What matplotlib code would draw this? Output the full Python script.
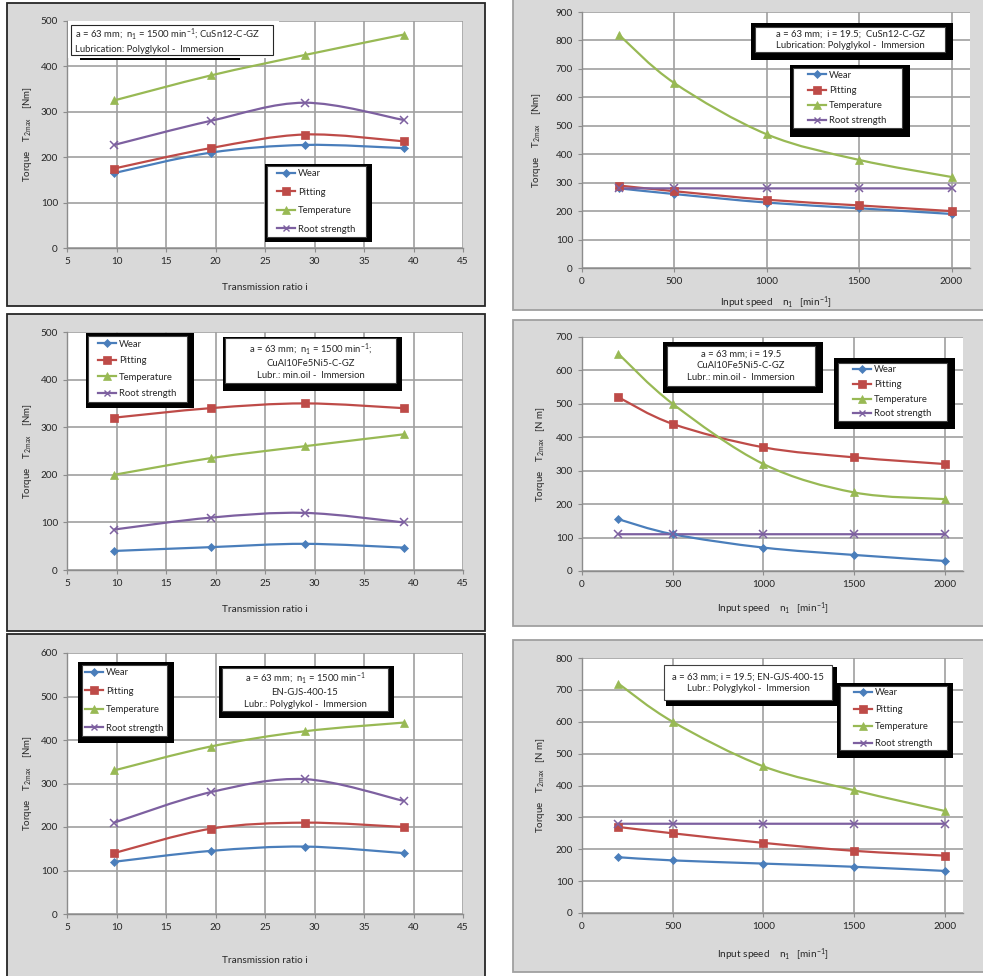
import numpy as np
import matplotlib
matplotlib.use("Agg")
import matplotlib.pyplot as plt
from matplotlib.path import Path
from matplotlib.patches import PathPatch, Rectangle
from matplotlib.lines import Line2D

plt.rcParams['font.family'] = ['Lato', 'DejaVu Sans']
plt.rcParams['mathtext.fontset'] = 'custom'
plt.rcParams['mathtext.rm'] = 'Lato'
plt.rcParams['mathtext.it'] = 'Lato:italic'
plt.rcParams['mathtext.bf'] = 'Lato:bold'

# ---- data ----
ratio_i = [9.75, 19.5, 29, 39]
speed_n1 = [200, 500, 1000, 1500, 2000]

series_names = ['Wear', 'Pitting', 'Temperature', 'Root strength']

# CuSn12-C-GZ, torque vs ratio
cusn_ratio_wear = [165, 210, 227, 220]
cusn_ratio_pitting = [175, 220, 250, 235]
cusn_ratio_temp = [325, 380, 425, 470]
cusn_ratio_root = [227, 280, 320, 282]

# CuSn12-C-GZ, torque vs speed
cusn_speed_wear = [280, 260, 230, 210, 190]
cusn_speed_pitting = [290, 270, 240, 220, 200]
cusn_speed_temp = [820, 650, 470, 380, 320]
cusn_speed_root = [280, 280, 280, 280, 280]

# CuAl10Fe5Ni5-C-GZ, torque vs ratio
cual_ratio_wear = [40, 48, 55, 47]
cual_ratio_pitting = [320, 340, 350, 340]
cual_ratio_temp = [200, 235, 260, 285]
cual_ratio_root = [85, 110, 120, 100]

# CuAl10Fe5Ni5-C-GZ, torque vs speed
cual_speed_wear = [155, 110, 70, 48, 30]
cual_speed_pitting = [520, 440, 370, 340, 320]
cual_speed_temp = [650, 500, 320, 235, 215]
cual_speed_root = [110, 110, 110, 110, 110]

# EN-GJS-400-15, torque vs ratio
gjs_ratio_wear = [120, 145, 155, 140]
gjs_ratio_pitting = [140, 196, 210, 200]
gjs_ratio_temp = [330, 385, 420, 440]
gjs_ratio_root = [210, 280, 310, 260]

# EN-GJS-400-15, torque vs speed
gjs_speed_wear = [175, 165, 155, 145, 132]
gjs_speed_pitting = [270, 250, 220, 195, 180]
gjs_speed_temp = [720, 600, 460, 385, 320]
gjs_speed_root = [280, 280, 280, 280, 280]

# ---- styling ----
colors = ['#4A7EBB', '#BE4B48', '#98B954', '#7D60A0']
markers = ['D', 's', '^', 'x']
msizes = [4.5, 6, 6, 5.5]

W, H = 983, 976
fig = plt.figure(figsize=(W / 100, H / 100), dpi=100)


def frect(x0, y0, x1, y1):
    # pixel box (top-left origin) -> figure fraction
    return (x0 / W, 1 - y1 / H, (x1 - x0) / W, (y1 - y0) / H)


def frame(x0, y0, x1, y1, edge):
    l, b, w, h = frect(x0, y0, x1, y1)
    fig.add_artist(Rectangle((l, b), w, h, transform=fig.transFigure,
                             facecolor='#D9D9D9', edgecolor=edge, lw=1.3, zorder=-1))


def boxed(ax, outer, inner, edge='#404040'):
    if outer is not None:
        l, b, w, h = frect(*outer)
        ax.add_artist(Rectangle((l, b), w, h, transform=fig.transFigure,
                                facecolor='black', edgecolor='none', clip_on=False, zorder=6))
    l, b, w, h = frect(*inner)
    ax.add_artist(Rectangle((l, b), w, h, transform=fig.transFigure,
                            facecolor='white', edgecolor=edge, lw=0.8, clip_on=False, zorder=7))
    return (l, b, w, h)


def smooth_line(ax, xs, ys, color):
    # Excel-like smoothed line through the points (cubic Bezier segments)
    pts = np.column_stack([xs, ys]).astype(float)
    n = len(pts)
    verts = [pts[0]]
    codes = [Path.MOVETO]
    for k in range(n - 1):
        p0 = pts[k - 1] if k > 0 else pts[k]
        p1 = pts[k]
        p2 = pts[k + 1]
        p3 = pts[k + 2] if k + 2 < n else pts[k + 1]
        c1 = p1 + (p2 - p0) / 6.0
        c2 = p2 - (p3 - p1) / 6.0
        verts += [c1, c2, p2]
        codes += [Path.CURVE4] * 3
    ax.add_patch(PathPatch(Path(verts, codes), fill=False, edgecolor=color,
                           lw=1.6, zorder=3, capstyle='round'))


def panel(rect, xs, series, xlim, xticks, ylim, yticks, xlabel, ylabel,
          xlabelpad, ylabelpad):
    ax = fig.add_axes(frect(*rect))
    for s, c, m, ms in zip(series, colors, markers, msizes):
        smooth_line(ax, xs, s, c)
        ax.plot(xs, s, ls='none', marker=m, color=c, markersize=ms,
                markeredgewidth=1.1 if m == 'x' else 0.5, zorder=4)
    ax.set_xlim(*xlim)
    ax.set_ylim(*ylim)
    ax.set_xticks(xticks)
    ax.set_yticks(yticks)
    ax.grid(True, color='#A0A0A0', lw=1.2)
    ax.set_axisbelow(True)
    for sp in ['top', 'right']:
        ax.spines[sp].set_visible(False)
    for sp in ['left', 'bottom']:
        ax.spines[sp].set_color('#8C8C8C')
        ax.spines[sp].set_linewidth(1.0)
    ax.tick_params(labelsize=7.2, length=3, color='#8C8C8C', labelcolor='#262626')
    ax.set_xlabel(xlabel, fontsize=7.2, color='#262626', labelpad=xlabelpad)
    ax.set_ylabel(ylabel, fontsize=7, color='#262626', labelpad=ylabelpad)
    return ax


def add_legend(ax, inner_rect, spacing):
    handles = [Line2D([], [], color=c, marker=m, markersize=ms * 0.85, lw=1.6,
                      markeredgewidth=1.0 if m == 'x' else 0.5)
               for c, m, ms in zip(colors, markers, msizes)]
    leg = ax.legend(handles, series_names, loc='center', bbox_to_anchor=inner_rect,
                    bbox_transform=fig.transFigure, frameon=False, fontsize=6.8,
                    handlelength=1.9, handletextpad=0.3, labelspacing=spacing,
                    borderpad=0.2, numpoints=1)
    leg.set_zorder(8)
    for t in leg.get_texts():
        t.set_color('#262626')


def add_note(ax, inner_rect, text, ha='center', pad=4):
    l, b, w, h = inner_rect
    x = l + w / 2 if ha == 'center' else l + pad / W
    ax.text(x, b + h / 2, text, transform=fig.transFigure, ha=ha, va='center',
            fontsize=6.8, color='#262626', zorder=9, linespacing=1.35)


# ---- panel frames ----
frame(7, 3, 485, 306, '#262626')
frame(7, 314, 485, 631, '#262626')
frame(7, 634, 485, 990, '#262626')
frame(513, -10, 1000, 310, '#A0A0A0')
frame(513, 320, 1000, 626, '#A0A0A0')
frame(513, 640, 1000, 972, '#A0A0A0')

ratio_ticks = list(range(5, 46, 5))
speed_ticks = [0, 500, 1000, 1500, 2000]
ratio_label = 'Transmission ratio i'
speed_label = r'Input speed    n$_1$   [min$^{-1}$]'
torque_label = r'Torque    T$_{\mathrm{2max}}$    [Nm]'
torque_label2 = r'Torque    T$_{\mathrm{2max}}$   [N m]'

# ---- top left: CuSn12, ratio ----
ax1 = panel((67, 21, 463, 248), ratio_i,
            [cusn_ratio_wear, cusn_ratio_pitting, cusn_ratio_temp, cusn_ratio_root],
            (5, 45), ratio_ticks, (0, 500), range(0, 501, 100),
            ratio_label, torque_label, 12, 5)
boxed(ax1, (68, 21, 279, 58), (68, 21, 279, 58), edge='none')
boxed(ax1, (80, 54, 240, 60), (71, 25, 273, 55), edge='#262626')
add_note(ax1, frect(71, 25, 273, 55),
         'a = 63 mm;  n$_1$ = 1500 min$^{-1}$; CuSn12-C-GZ\nLubrication: Polyglykol -  Immersion',
         ha='left')
add_legend(ax1, boxed(ax1, (265, 164, 372, 242), (267, 166, 366, 237)), 1.0)

# ---- top right: CuSn12, speed ----
ax2 = panel((582, 12, 970, 268), speed_n1,
            [cusn_speed_wear, cusn_speed_pitting, cusn_speed_temp, cusn_speed_root],
            (0, 2100), speed_ticks, (0, 900), range(0, 901, 100),
            speed_label, torque_label, 6, 9)
add_note(ax2, boxed(ax2, (751, 23, 953, 60), (755, 27, 945, 52)),
         'a = 63 mm;  i = 19.5;  CuSn12-C-GZ\nLubrication: Polyglykol -  Immersion')
add_legend(ax2, boxed(ax2, (790, 65, 910, 137), (793, 68, 902, 128)), 0.65)

# ---- middle left: CuAl10, ratio ----
ax3 = panel((67, 332, 463, 570), ratio_i,
            [cual_ratio_wear, cual_ratio_pitting, cual_ratio_temp, cual_ratio_root],
            (5, 45), ratio_ticks, (0, 500), range(0, 501, 100),
            ratio_label, torque_label, 12, 5)
add_legend(ax3, boxed(ax3, (86, 333, 194, 408), (88, 336, 187, 402)), 0.8)
add_note(ax3, boxed(ax3, (223, 337, 402, 391), (225, 338, 396, 383)),
         'a = 63 mm;  n$_1$ = 1500 min$^{-1}$;\nCuAl10Fe5Ni5-C-GZ\nLubr.: min.oil -  Immersion')

# ---- middle right: CuAl10, speed ----
ax4 = panel((582, 337, 963, 571), speed_n1,
            [cual_speed_wear, cual_speed_pitting, cual_speed_temp, cual_speed_root],
            (0, 2100), speed_ticks, (0, 700), range(0, 701, 100),
            speed_label, torque_label2, 8, 6)
add_note(ax4, boxed(ax4, (663, 342, 823, 393), (667, 346, 815, 386)),
         'a = 63 mm; i = 19.5\nCuAl10Fe5Ni5-C-GZ\nLubr.: min.oil -  Immersion')
add_legend(ax4, boxed(ax4, (834, 358, 955, 429), (838, 363, 947, 421)), 0.6)

# ---- bottom left: EN-GJS, ratio ----
ax5 = panel((67, 653, 463, 914), ratio_i,
            [gjs_ratio_wear, gjs_ratio_pitting, gjs_ratio_temp, gjs_ratio_root],
            (5, 45), ratio_ticks, (0, 600), range(0, 601, 100),
            ratio_label, torque_label, 17, 5)
add_legend(ax5, boxed(ax5, (78, 662, 174, 743), (82, 665, 167, 736)), 1.0)
add_note(ax5, boxed(ax5, (219, 666, 394, 718), (222, 668, 388, 711)),
         'a = 63 mm;  n$_1$ = 1500 min$^{-1}$\nEN-GJS-400-15\nLubr.: Polyglykol -  Immersion')

# ---- bottom right: EN-GJS, speed ----
ax6 = panel((582, 658, 963, 913), speed_n1,
            [gjs_speed_wear, gjs_speed_pitting, gjs_speed_temp, gjs_speed_root],
            (0, 2100), speed_ticks, (0, 800), range(0, 801, 100),
            speed_label, torque_label2, 11, 6)
add_note(ax6, boxed(ax6, (666, 667, 837, 706), (664, 665, 832, 700)),
         'a = 63 mm; i = 19.5; EN-GJS-400-15\nLubr.: Polyglykol -  Immersion')
add_legend(ax6, boxed(ax6, (837, 683, 953, 758), (840, 686, 947, 750)), 0.85)

fig.savefig('out.png', dpi=100, facecolor='white')
